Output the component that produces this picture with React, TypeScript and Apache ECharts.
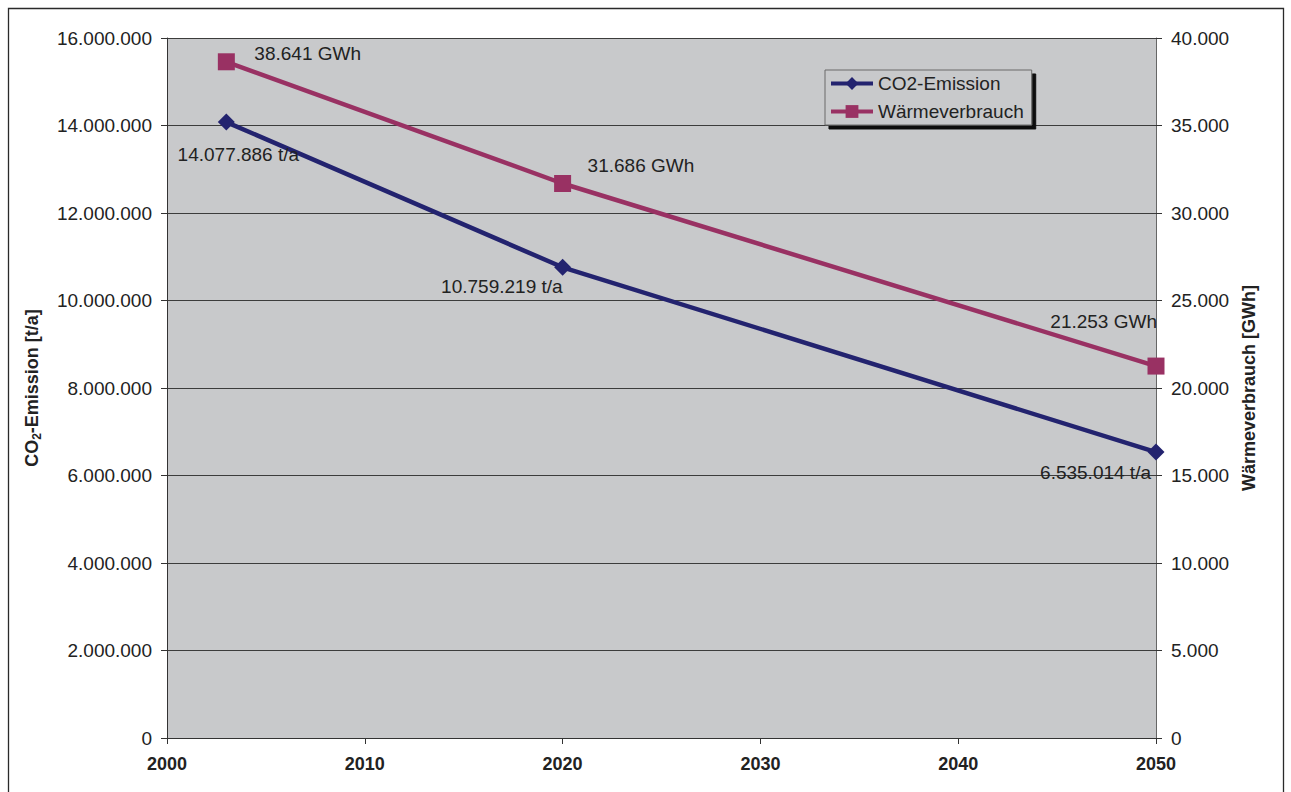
import React, { useEffect, useRef } from "react";
import * as echarts from "echarts";

// Years of the scenario points
const years = [2003, 2020, 2050];
// CO2 emissions in t/a
const co2Emission = [14077886, 10759219, 6535014];
// Heat consumption in GWh
const waermeverbrauch = [38641, 31686, 21253];

const seriesNames = ["CO2-Emission", "Wärmeverbrauch"];

// Label placement relative to each marker (align, [dx, dy])
const co2LabelLayout: [string, number[]][] = [
  ["center", [12, 32]],
  ["right", [0, 19]],
  ["right", [-5, 20]],
];
const waermeLabelLayout: [string, number[]][] = [
  ["left", [28, -8]],
  ["left", [25, -18]],
  ["right", [1, -45]],
];

const FONT = "'Liberation Sans', Arial, sans-serif";
const TEXT = "#222222";
const BLUE = "#23236F";
const PLUM = "#993163";
const PLOT_BG = "#C8C9CB";

// German thousands separator
const de = (v: number) =>
  String(Math.round(v)).replace(/\B(?=(\d{3})+(?!\d))/g, ".");

export default function App() {
  const ref = useRef<HTMLDivElement>(null);

  useEffect(() => {
    if (!ref.current) return;
    const chart = echarts.init(ref.current, undefined, { renderer: "svg" });

    const co2Data = years.map((y, i) => ({
      value: [y, co2Emission[i]],
      label: {
        align: co2LabelLayout[i][0],
        offset: co2LabelLayout[i][1],
      },
    }));
    const waermeData = years.map((y, i) => ({
      value: [y, waermeverbrauch[i]],
      label: {
        align: waermeLabelLayout[i][0],
        offset: waermeLabelLayout[i][1],
      },
    }));

    const labelBase = {
      show: true,
      position: "inside",
      verticalAlign: "middle",
      color: TEXT,
      fontSize: 19,
      fontFamily: FONT,
    };

    chart.setOption({
      animation: false,
      backgroundColor: "#ffffff",
      textStyle: { fontFamily: FONT },
      grid: {
        left: 167,
        right: 135,
        top: 38,
        bottom: 54,
        show: true,
        backgroundColor: PLOT_BG,
        borderWidth: 0,
      },
      legend: {
        orient: "vertical",
        left: 825,
        top: 70,
        padding: [4, 8, 4, 4],
        itemGap: 9,
        itemWidth: 42,
        itemHeight: 16,
        backgroundColor: PLOT_BG,
        borderColor: "#6a6a6a",
        borderWidth: 1,
        shadowColor: "#111111",
        shadowBlur: 0,
        shadowOffsetX: 4,
        shadowOffsetY: 4,
        lineStyle: { width: 4 },
        textStyle: { color: TEXT, fontSize: 19, fontFamily: FONT },
        data: seriesNames,
      },
      xAxis: {
        type: "value",
        min: 2000,
        max: 2050,
        interval: 10,
        splitLine: { show: false },
        axisLine: { show: true, lineStyle: { color: "#333", width: 1 } },
        axisTick: { show: true, length: 6, lineStyle: { color: "#333" } },
        axisLabel: {
          margin: 17,
          color: TEXT,
          fontSize: 18,
          fontWeight: "bold",
          fontFamily: FONT,
          formatter: (v: number) => String(v),
        },
      },
      yAxis: [
        {
          type: "value",
          min: 0,
          max: 16000000,
          interval: 2000000,
          position: "left",
          name: "CO{sub|2}-Emission [t/a]",
          nameLocation: "middle",
          nameGap: 124,
          nameTextStyle: {
            color: TEXT,
            fontSize: 18,
            fontWeight: "bold",
            fontFamily: FONT,
            rich: {
              sub: {
                fontSize: 12,
                fontWeight: "bold",
                fontFamily: FONT,
                color: TEXT,
                verticalAlign: "bottom",
                lineHeight: 23,
              },
            },
          },
          axisLine: { show: true, lineStyle: { color: "#333", width: 1 } },
          axisTick: { show: true, length: 6, lineStyle: { color: "#333" } },
          splitLine: { show: true, lineStyle: { color: "#3c3c3c", width: 1 } },
          axisLabel: {
            margin: 15,
            color: TEXT,
            fontSize: 19,
            fontFamily: FONT,
            formatter: (v: number) => de(v),
          },
        },
        {
          type: "value",
          min: 0,
          max: 40000,
          interval: 5000,
          position: "right",
          name: "Wärmeverbrauch [GWh]",
          nameLocation: "middle",
          nameGap: 83,
          nameRotate: 90,
          nameTextStyle: {
            color: TEXT,
            fontSize: 18,
            fontWeight: "bold",
            fontFamily: FONT,
          },
          axisLine: { show: true, lineStyle: { color: "#666", width: 1 } },
          axisTick: { show: true, length: 6, lineStyle: { color: "#333" } },
          splitLine: { show: false },
          axisLabel: {
            margin: 15,
            color: TEXT,
            fontSize: 19,
            fontFamily: FONT,
            formatter: (v: number) => de(v),
          },
        },
      ],
      series: [
        {
          name: seriesNames[0],
          type: "line",
          yAxisIndex: 0,
          data: co2Data,
          symbol: "diamond",
          symbolSize: 17,
          clip: false,
          lineStyle: { color: BLUE, width: 4.5 },
          itemStyle: { color: BLUE },
          label: { ...labelBase, formatter: (p: any) => `${de(p.value[1])} t/a` },
          z: 3,
        },
        {
          name: seriesNames[1],
          type: "line",
          yAxisIndex: 1,
          data: waermeData,
          symbol: "rect",
          symbolSize: 17,
          clip: false,
          lineStyle: { color: PLUM, width: 4.5 },
          itemStyle: { color: PLUM },
          label: { ...labelBase, formatter: (p: any) => `${de(p.value[1])} GWh` },
          z: 3,
        },
      ],
      graphic: [
        {
          type: "rect",
          silent: true,
          shape: { x: 8.5, y: 8.5, width: 1275, height: 820 },
          style: { fill: "none", stroke: "#2a2a2a", lineWidth: 1.3 },
          z: 100,
        },
      ],
    });

    return () => chart.dispose();
  }, []);

  return (
    <div
      ref={ref}
      style={{ position: "fixed", left: 0, top: 0, width: 1291, height: 792 }}
    />
  );
}
